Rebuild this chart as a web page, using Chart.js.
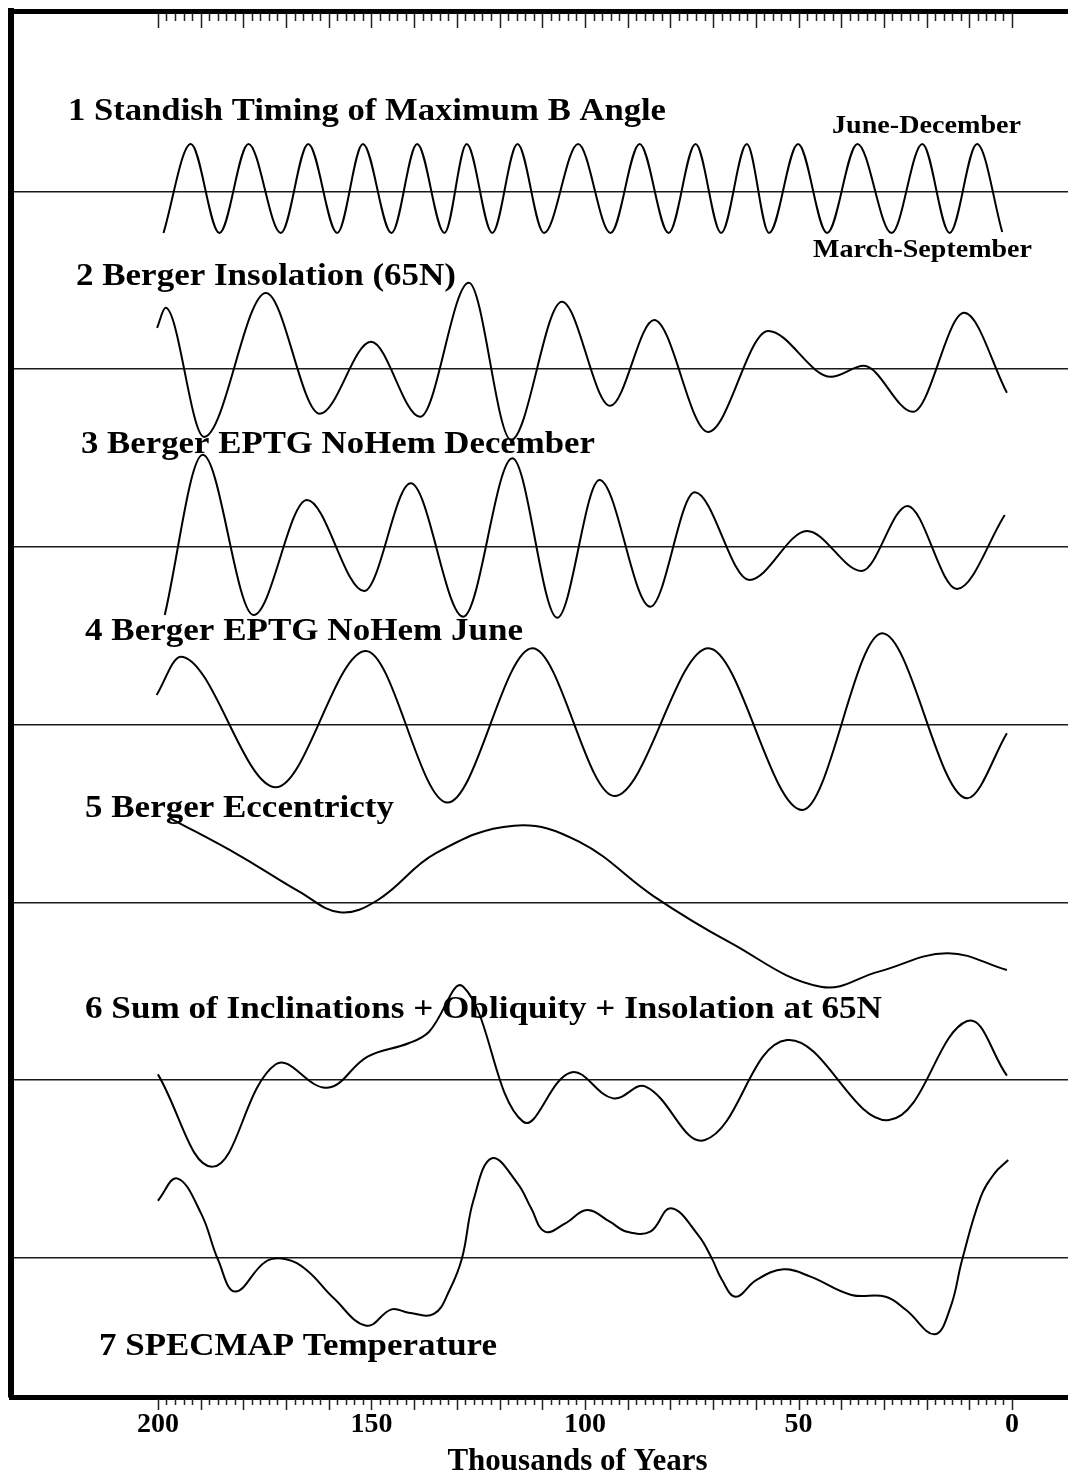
<!DOCTYPE html>
<html>
<head>
<meta charset="utf-8">
<title>Standish timing vs Berger curves</title>
<script src="https://cdn.jsdelivr.net/npm/chart.js@4.4.1/dist/chart.umd.min.js"></script>
<style>
  html, body { margin: 0; padding: 0; background: #fff; }
  #wrap { width: 1068px; height: 1477px; overflow: hidden; position: relative; }
  #chart { display: block; }
</style>
</head>
<body>
<div id="wrap"><canvas id="chart" width="1144" height="1477"></canvas></div>
<script>
// ages in thousands of years, values are deviations from each track's baseline
const xTickValues = [200, 150, 100, 50, 0];
const baselines = [600, 500, 400, 300, 200, 100, 0];

// 1 Standish timing of maximum B angle
const age1 = [198.7, 192.3, 185.6, 178.8, 171.2, 164.8, 158.0, 152.0, 145.3, 139.3, 132.9, 127.7, 121.7, 115.8, 109.6,
  101.6, 94.0, 87.2, 80.4, 74.1, 68.1, 62.1, 56.9, 50.1, 43.3, 36.2, 28.2, 21.0, 14.6, 8.2, 2.3];
const val1 = [-23.4, 26.7, -23.4, 26.7, -23.4, 26.7, -23.4, 26.7, -23.4, 26.7, -23.4, 26.7, -23.4, 26.7, -23.4,
  26.7, -23.4, 26.7, -23.4, 26.7, -23.4, 26.7, -23.4, 26.7, -23.4, 26.7, -23.4, 26.7, -23.4, 26.7, -22.8];

// 2 Berger insolation 65N
const age2 = [200.2, 198.2, 189.2, 174.7, 162.1, 150.1, 138.6, 127.2, 117.3, 105.4, 94.1, 83.8, 71.2, 57.1, 42.4, 34.7, 23.2, 11.2, 1.2];
const val2 = [23.2, 34.5, -38.1, 42.9, -25.1, 15.4, -26.8, 48.6, -39.8, 37.9, -20.6, 27.7, -35.3, 21.5, -4.3, 1.9, -24.0, 31.7, -13.3];

// 3 Berger EPTG NoHem December
const age3 = [198.4, 189.5, 177.6, 165.1, 151.7, 140.8, 128.5, 117.0, 106.5, 96.6, 84.7, 74.3, 61.5, 48.0, 35.2, 24.5, 12.9, 1.7];
const val3 = [-38.3, 51.8, -38.3, 26.4, -24.8, 35.8, -39.2, 49.9, -39.8, 37.7, -33.6, 30.8, -18.6, 9.0, -13.5, 23.1, -23.6, 18.0];

// 4 Berger EPTG NoHem June
const age4 = [200.3, 194.7, 172.4, 151.3, 132.2, 112.3, 93.1, 71.1, 49.1, 30.4, 10.5, 1.2];
const val4 = [16.7, 38.3, -35.2, 41.5, -43.8, 43.0, -40.1, 43.0, -48.0, 51.4, -41.4, -4.8];

// 5 Berger eccentricity
const age5 = [197.2, 181.1, 166.9, 157.4, 148.5, 134.9, 116.6, 101.4, 83.8, 66.3, 44.8, 31.2, 15.2, 1.2];
const val5 = [47.5, 26.7, 6.1, -5.5, 1.4, 27.7, 43.2, 34.2, 3.3, -22.2, -47.4, -38.9, -28.6, -38.0];

// 6 Sum of inclinations + obliquity + insolation
const age6 = [200.0, 187.1, 172.4, 160.4, 150.9, 141.3, 136.5, 128.5, 114.5, 103.3, 93.4, 85.8, 71.9, 52.7, 28.8, 10.5, 1.2];
const val6 = [3.3, -48.6, 9.0, -4.2, 13.3, 20.8, 27.3, 52.6, -23.3, 4.4, -10.2, -3.6, -33.6, 22.6, -22.4, 33.3, 2.6];

// 7 SPECMAP temperature
const age7 = [200.0, 195.5, 189.9, 185.9, 181.9, 174.8, 170.0, 165.2, 158.8, 151.2, 145.3, 141.3, 135.4, 131.7, 128.8,
  126.1, 121.8, 115.8, 112.6, 109.4, 104.6, 99.5, 94.2, 90.2, 84.7, 79.9, 73.5, 70.3, 67.9, 64.7, 59.9, 53.5,
  47.2, 37.6, 29.6, 24.8, 18.1, 14.4, 11.7, 7.3, 4.1, 0.9];
const val7 = [32.2, 44.8, 25.1, -1.1, -18.9, -2.1, -0.7, -6.8, -22.7, -38.1, -28.9, -30.8, -31.5, -18.0, -0.2,
  32.6, 56.1, 42.0, 28.0, 14.8, 19.5, 27.0, 20.4, 14.8, 14.8, 28.0, 12.9, -0.2, -12.4, -21.8, -12.4, -6.4,
  -10.5, -20.8, -21.8, -29.3, -42.9, -27.6, -1.1, 34.5, 47.6, 55.1];

const tracks = [
  [age1, val1], [age2, val2], [age3, val3], [age4, val4], [age5, val5], [age6, val6], [age7, val7]
];
// first four are clean peak/trough series, last three are smoother curves
const smoothTracks = [4, 5, 6];

const serif = '"Liberation Serif", "DejaVu Serif", serif';

const panelLabels = [
  { text: '1 Standish Timing of Maximum B Angle', x: 68, y: 120, w: 598, size: 32 },
  { text: 'June-December', x: 832, y: 133, w: 189, size: 26 },
  { text: 'March-September', x: 813, y: 257, w: 219, size: 26 },
  { text: '2 Berger Insolation (65N)', x: 76, y: 285, w: 380, size: 32 },
  { text: '3 Berger EPTG NoHem December', x: 81, y: 453, w: 514, size: 32 },
  { text: '4 Berger EPTG NoHem June', x: 85, y: 640, w: 438, size: 32 },
  { text: '5 Berger Eccentricty', x: 85, y: 817, w: 309, size: 32 },
  { text: '6 Sum of Inclinations + Obliquity + Insolation at 65N', x: 85, y: 1018, w: 797, size: 32 },
  { text: '7 SPECMAP Temperature', x: 99, y: 1355, w: 398, size: 32 }
];

const labelPlugin = {
  id: 'panelLabels',
  afterDatasetsDraw(chart) {
    const ctx = chart.ctx;
    panelLabels.forEach(function (l) {
      ctx.save();
      ctx.font = 'bold ' + l.size + 'px ' + serif;
      ctx.fillStyle = '#000';
      ctx.textBaseline = 'alphabetic';
      const m = ctx.measureText(l.text).width;
      ctx.translate(l.x, l.y);
      ctx.scale(l.w / m, 1);
      ctx.fillText(l.text, 0, 0);
      ctx.restore();
    });
  }
};

// small and large tick marks along top (inside) and bottom (outside)
const tickPlugin = {
  id: 'tickMarks',
  afterDraw(chart) {
    const { ctx, chartArea } = chart;
    const sx = chart.scales.x;
    ctx.save();
    ctx.strokeStyle = '#222';
    ctx.lineWidth = 1.5;
    for (let v = 0; v <= 200; v += 2) {
      const px = Math.round(sx.getPixelForValue(v)) + 0.5;
      const major = v % 10 === 0;
      ctx.beginPath();
      ctx.moveTo(px, chartArea.top + 2);
      ctx.lineTo(px, chartArea.top + (major ? 17 : 10));
      ctx.moveTo(px, chartArea.bottom + 2);
      ctx.lineTo(px, chartArea.bottom + (major ? 13 : 8));
      ctx.stroke();
    }
    ctx.restore();
  }
};

const datasets = tracks.map(function (t, k) {
  const smooth = smoothTracks.indexOf(k) >= 0;
  return {
    data: t[0].map(function (a, i) { return { x: a, y: baselines[k] + t[1][i] }; }),
    borderColor: '#000',
    borderWidth: 2,
    pointRadius: 0,
    fill: false,
    cubicInterpolationMode: smooth ? 'default' : 'monotone',
    tension: smooth ? 0.4 : 0
  };
});

const xMin = -30.9, xMax = 234.4;

new Chart(document.getElementById('chart'), {
  type: 'line',
  data: { datasets: datasets },
  options: {
    responsive: false,
    animation: false,
    layout: { padding: 0 },
    plugins: { legend: { display: false }, tooltip: { enabled: false } },
    scales: {
      x: {
        type: 'linear', position: 'bottom', reverse: true, min: xMin, max: xMax,
        afterBuildTicks: function (s) { s.ticks = xTickValues.map(function (v) { return { value: v }; }); },
        afterFit: function (s) { s.height = 80; },
        grid: { drawOnChartArea: false, drawTicks: false },
        border: { display: true, color: '#000', width: 5 },
        ticks: {
          autoSkip: false, maxRotation: 0, padding: 11, color: '#000',
          font: { family: serif, size: 28, weight: 'bold' },
          callback: function (v) { return String(v); }
        },
        title: {
          display: true, text: 'Thousands of Years', color: '#000',
          font: { family: serif, size: 31, weight: 'bold' },
          padding: { top: 0, bottom: -4 }
        }
      },
      xTop: {
        type: 'linear', position: 'top', reverse: true, min: xMin, max: xMax,
        afterBuildTicks: function (s) { s.ticks = []; },
        afterFit: function (s) { s.height = 11; },
        grid: { drawOnChartArea: false, drawTicks: false },
        border: { display: true, color: '#000', width: 5 },
        ticks: { display: false }
      },
      y: {
        type: 'linear', min: -78.2, max: 701.5,
        afterBuildTicks: function (s) { s.ticks = baselines.map(function (v) { return { value: v }; }); },
        afterFit: function (s) { s.width = 11; },
        grid: { color: '#1a1a1a', lineWidth: 1.6, drawTicks: false },
        border: { display: true, color: '#000', width: 6 },
        ticks: { display: false }
      }
    }
  },
  plugins: [labelPlugin, tickPlugin]
});
</script>
</body>
</html>
